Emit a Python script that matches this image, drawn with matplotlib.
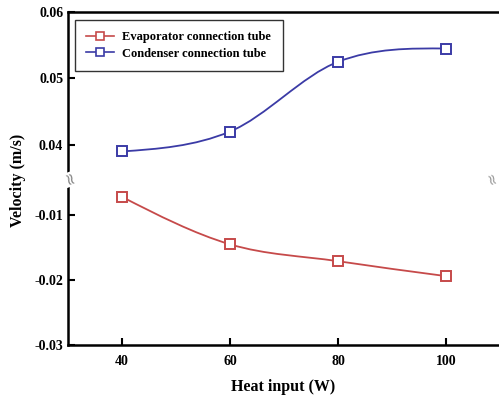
import numpy as np
import matplotlib.pyplot as plt
from matplotlib.path import Path
from matplotlib.patches import PathPatch
from matplotlib.lines import Line2D

plt.rcParams['font.family'] = 'Liberation Serif'
plt.rcParams['font.weight'] = 'bold'
plt.rcParams['font.size'] = 10

heat_input = [40, 60, 80, 100]
evaporator = [-0.0072, -0.0145, -0.0171, -0.0194]
condenser = [0.0390, 0.0420, 0.0525, 0.0545]

top_ticks = [0.04, 0.05, 0.06]
bottom_ticks = [-0.03, -0.02, -0.01]

RED = '#c64a4a'
BLUE = '#3b3ba6'


def smooth_path(x, y):
    # cubic bezier through the points (catmull-rom style tangents)
    x = np.asarray(x, float)
    y = np.asarray(y, float)
    n = len(x)
    m = np.zeros(n)
    for i in range(1, n - 1):
        m[i] = (y[i + 1] - y[i - 1]) / (x[i + 1] - x[i - 1])
    s0 = (y[1] - y[0]) / (x[1] - x[0])
    s1 = (y[-1] - y[-2]) / (x[-1] - x[-2])
    m[0] = (3 * s0 - m[1]) / 2
    m[-1] = (3 * s1 - m[-2]) / 2
    verts = [(x[0], y[0])]
    codes = [Path.MOVETO]
    for i in range(n - 1):
        h = x[i + 1] - x[i]
        verts += [(x[i] + h / 3, y[i] + m[i] * h / 3),
                  (x[i + 1] - h / 3, y[i + 1] - m[i + 1] * h / 3),
                  (x[i + 1], y[i + 1])]
        codes += [Path.CURVE4] * 3
    return Path(verts, codes)


fig = plt.figure(figsize=(4.99, 4.01), dpi=100)
left = 68 / 499
break_y = 1 - 180 / 401
top_y = 1 - 12 / 401
bot_y = 1 - 345 / 401
ax_top = fig.add_axes([left, break_y, 1 - left, top_y - break_y])
ax_bot = fig.add_axes([left, bot_y, 1 - left, break_y - bot_y], sharex=ax_top)

for ax in (ax_top, ax_bot):
    ax.set_xlim(30, 109.8)
    ax.spines['right'].set_visible(False)
    for sp in ax.spines.values():
        sp.set_linewidth(1.8)
    ax.tick_params(direction='in', length=5, width=1.5, labelsize=10)

ax_top.spines['bottom'].set_visible(False)
ax_bot.spines['top'].set_visible(False)
ax_top.tick_params(axis='x', bottom=False, labelbottom=False)
ax_top.set_ylim(0.0347, 0.06)
ax_bot.set_ylim(-0.03, -0.0046)
ax_top.set_yticks(top_ticks)
ax_top.set_yticklabels([f'{v:.2f}' for v in top_ticks])
ax_bot.set_yticks(bottom_ticks)
ax_bot.set_yticklabels([f'{v:.2f}' for v in bottom_ticks])
ax_bot.set_xticks(heat_input)
ax_bot.tick_params(axis='x', pad=7)

ax_top.add_patch(PathPatch(smooth_path(heat_input, condenser), fill=False,
                           edgecolor=BLUE, lw=1.3))
ax_top.plot(heat_input, condenser, ls='none', marker='s', ms=6.5,
            mfc='white', mec=BLUE, mew=1.4, zorder=3)
ax_bot.add_patch(PathPatch(smooth_path(heat_input, evaporator), fill=False,
                           edgecolor=RED, lw=1.3))
ax_bot.plot(heat_input, evaporator, ls='none', marker='s', ms=6.5,
            mfc='white', mec=RED, mew=1.4, zorder=3)

handles = [Line2D([], [], color=RED, lw=1.2, marker='s', ms=5.5, mfc='white', mec=RED, mew=1.2),
           Line2D([], [], color=BLUE, lw=1.2, marker='s', ms=5.5, mfc='white', mec=BLUE, mew=1.2)]
leg = ax_top.legend(handles, ['Evaporator connection tube', 'Condenser connection tube'],
                    loc='upper left', bbox_to_anchor=(0.016, 0.952), fancybox=False,
                    edgecolor='black', fontsize=9, handlelength=2.2,
                    borderpad=0.9, labelspacing=0.35, handletextpad=0.7,
                    borderaxespad=0)
leg.get_frame().set_linewidth(1.0)

# axis break marks
fig.text(left, break_y, '\u2248', ha='center', va='center', fontsize=12,
         color='#888888', rotation=-70, family='DejaVu Sans', fontweight='normal',
         bbox=dict(facecolor='white', edgecolor='none', pad=0.2))
fig.text(0.982, break_y, '\u2248', ha='center', va='center', fontsize=11,
         color='#999999', rotation=-70, family='DejaVu Sans', fontweight='normal')

fig.text(0.036, break_y, 'Velocity (m/s)', rotation=90, ha='center', va='center', fontsize=11.5)
fig.text((68 + 499) / 2 / 499, 1 - 387 / 401, 'Heat input (W)', ha='center', va='center',
         fontsize=11.5)

fig.savefig('out.png', dpi=100)
